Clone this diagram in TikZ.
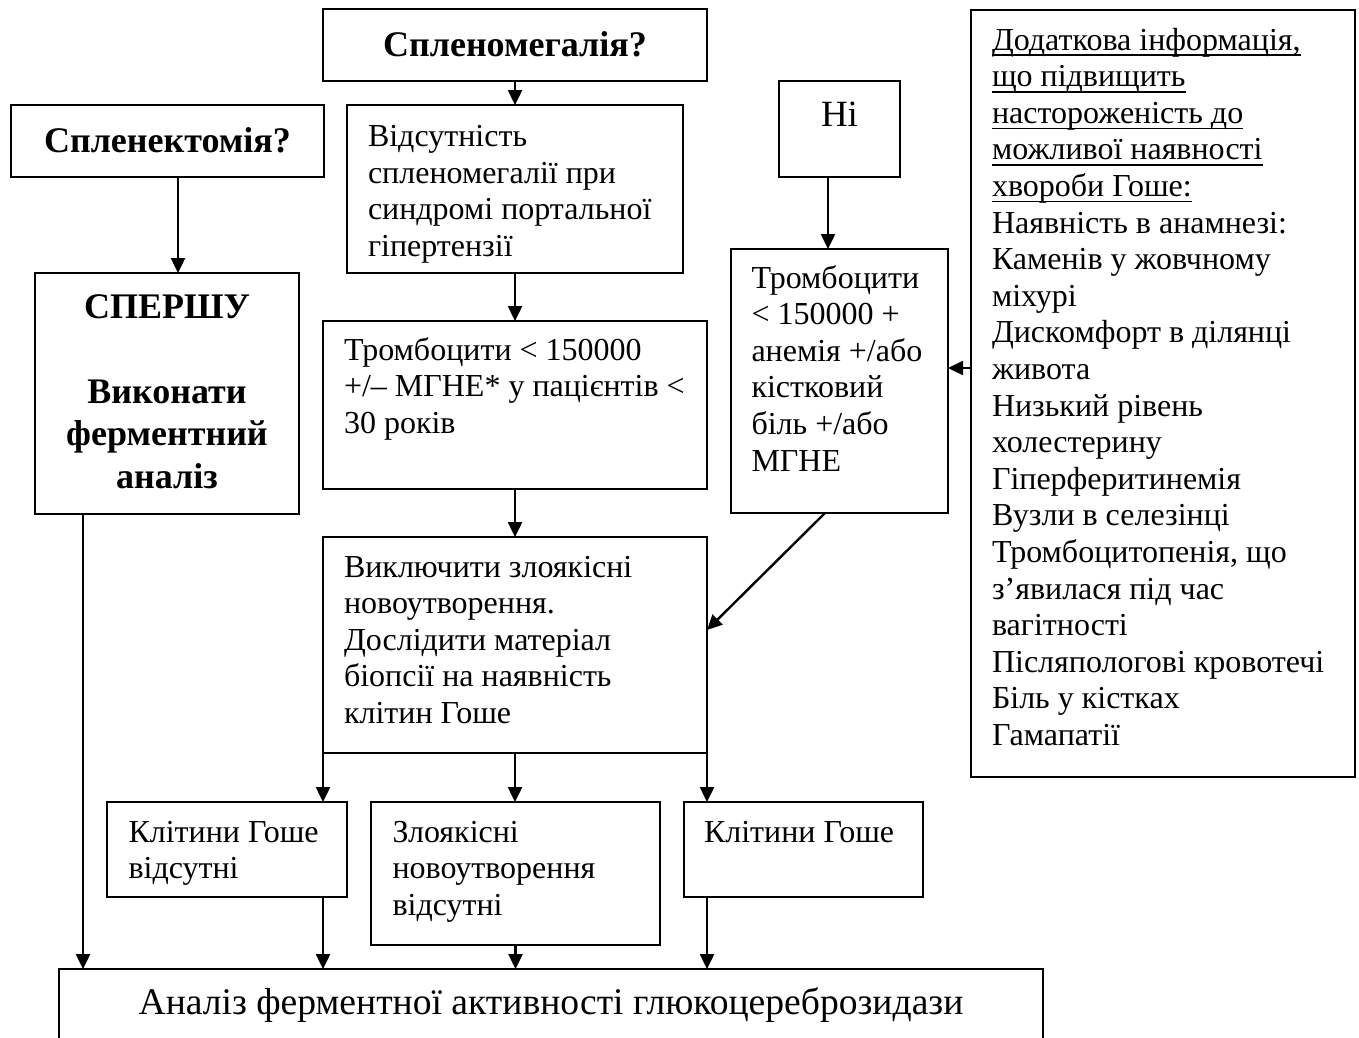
\documentclass[tikz,border=0pt]{standalone}
\usepackage{fontspec}
\setmainfont{Liberation Serif}
\usetikzlibrary{arrows.meta,calc}
\newsavebox{\myulbox}
\newcommand{\myul}[1]{\sbox{\myulbox}{#1}\rlap{\rule[-6pt]{\wd\myulbox}{1.6pt}}\usebox{\myulbox}}
\newcommand{\cellL}[3]{\begin{minipage}[t][#2][t]{#1}\begin{tabular}[t]{@{}l@{}}#3\end{tabular}\end{minipage}}
\newcommand{\cellC}[3]{\begin{minipage}[t][#2][t]{#1}\centering\begin{tabular}[t]{@{}c@{}}#3\end{tabular}\end{minipage}}
\begin{document}
\begin{tikzpicture}[x=1pt,y=-1pt,
  box/.style={draw, line width=1.8pt, anchor=north west, outer sep=0pt},
  reg/.style={font=\fontsize{32}{36.6}\selectfont},
  bld/.style={font=\fontsize{36}{42.5}\selectfont\bfseries},
  big/.style={font=\fontsize{37.6}{43.2}\selectfont},
  arr/.style={line width=2.4pt, -{Triangle[length=15pt,width=14pt]}}]
\useasboundingbox (0,0) rectangle (1359,1037);
\clip (0,0) rectangle (1359,1037);

\node[box,bld,inner xsep=10pt,inner ysep=17.25pt] (spl) at (323,9)
  {\cellC{364pt}{37.5pt}{Спленомегалія?}};
\node[box,bld,inner xsep=10pt,inner ysep=17.25pt] (sple) at (11,105)
  {\cellC{293pt}{37.5pt}{Спленектомія?}};
\node[box,reg,inner xsep=21pt,inner ysep=16pt] (vids) at (347,105)
  {\cellL{294pt}{136pt}{Відсутність\\ спленомегалії при\\ синдромі портальної\\ гіпертензії}};
\node[box,bld,inner xsep=8pt,inner ysep=15.25pt] (first) at (35,273)
  {\cellC{248pt}{210.5pt}{СПЕРШУ\\ \\ Виконати\\ ферментний\\ аналіз}};
\node[box,reg,inner xsep=21pt,inner ysep=13.4pt] (tr1) at (323,321)
  {\cellL{342pt}{141.2pt}{Тромбоцити < 150000\\ +/– МГНЕ* у пацієнтів <\\ 30 років}};
\node[box,font=\fontsize{37}{42.5}\selectfont,inner xsep=5pt,inner ysep=15.25pt] (ni) at (779,81)
  {\cellC{111pt}{65.5pt}{Ні}};
\node[box,reg,inner xsep=20.5pt,inner ysep=13.4pt] (tr2) at (731,249)
  {\cellL{176pt}{237.2pt}{Тромбоцити\\ < 150000 +\\ анемія +/або\\ кістковий\\ біль +/або\\ МГНЕ}};
\node[box,reg,inner xsep=21pt,inner ysep=14.4pt] (info) at (971,10)
  {\cellL{342pt}{738.2pt}{\myul{Додаткова інформація,}\\ \myul{що підвищить}\\ \myul{настороженість до}\\ \myul{можливої наявності}\\ \myul{хвороби Гоше:}\\ Наявність в анамнезі:\\ Каменів у жовчному\\ міхурі\\ Дискомфорт в ділянці\\ живота\\ Низький рівень\\ холестерину\\ Гіперферитинемія\\ Вузли в селезінці\\ Тромбоцитопенія, що\\ з’явилася під час\\ вагітності\\ Післяпологові кровотечі\\ Біль у кістках\\ Гамапатії}};
\node[box,reg,inner xsep=21pt,inner ysep=14.4pt] (excl) at (323,537)
  {\cellL{342pt}{187.2pt}{Виключити злоякісні\\ новоутворення.\\ Дослідити матеріал\\ біопсії на наявність\\ клітин Гоше}};
\node[box,reg,inner xsep=21.5pt,inner ysep=14.4pt] (ga) at (107,802)
  {\cellL{197pt}{66.2pt}{Клітини Гоше\\ відсутні}};
\node[box,reg,inner xsep=21.5pt,inner ysep=14.4pt] (mal) at (371,802)
  {\cellL{246pt}{114.2pt}{Злоякісні\\ новоутворення\\ відсутні}};
\node[box,reg,inner xsep=20pt,inner ysep=14.4pt] (gc) at (684,802)
  {\cellL{199pt}{66.2pt}{Клітини Гоше}};
\node[box,big,inner xsep=10pt,inner ysep=15.7pt] (fin) at (59,969)
  {\cellC{964pt}{98.6pt}{Аналіз ферментної активності глюкоцереброзидази}};

% connectors
\draw[arr] (spl.south) -- (vids.north);
\draw[arr] ([xshift=10.5pt]sple.south) -- ([xshift=10.5pt]sple.south |- first.north);
\draw[arr] (vids.south) -- (tr1.north);
\draw[arr] (tr1.south) -- (excl.north);
\draw[arr] (excl.south west) -- (excl.south west |- ga.north);
\draw[arr] (excl.south) -- (excl.south |- mal.north);
\draw[arr] (excl.south east) -- (excl.south east |- gc.north);
\coordinate (p8) at ([xshift=48pt]first.south west);
\draw[arr] (p8) -- (p8 |- fin.north);
\draw[arr] (excl.south west |- ga.south) -- (excl.south west |- fin.north);
\draw[arr] (mal.south) -- (mal.south |- fin.north);
\draw[arr] (excl.south east |- gc.south) -- (excl.south east |- fin.north);
\coordinate (p12) at ([xshift=-11.5pt]ni.south);
\draw[arr] (p12) -- (p12 |- tr2.north);
\coordinate (p13) at ([yshift=13pt]tr2.east);
\draw[arr] (p13 -| info.west) -- (p13);
\coordinate (p14a) at ([xshift=-14.5pt]tr2.south);
\coordinate (p14b) at ([yshift=15pt]excl.east);
\draw[arr] (p14a) -- (p14b);
\end{tikzpicture}
\end{document}
